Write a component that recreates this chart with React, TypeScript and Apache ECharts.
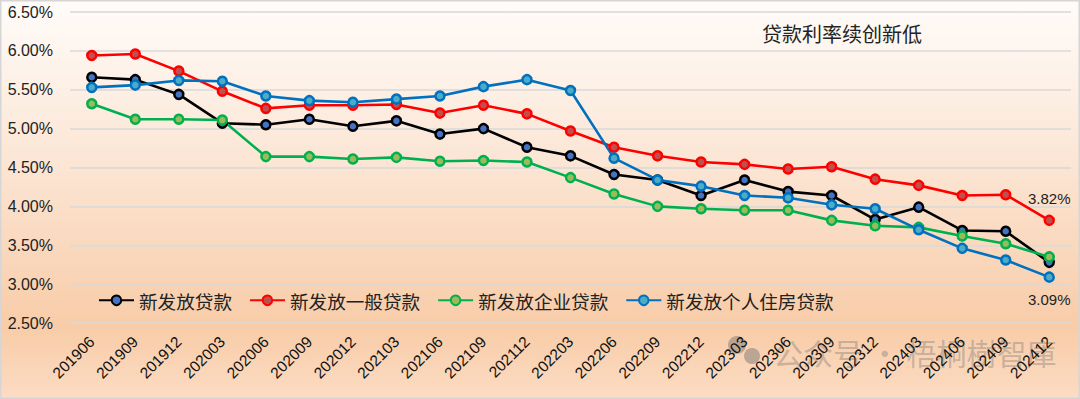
import React, { useEffect, useRef } from "react";
import * as echarts from "echarts";

const categories = [
  "201906", "201909", "201912", "202003", "202006", "202009", "202012", "202103",
  "202106", "202109", "202112", "202203", "202206", "202209", "202212", "202303",
  "202306", "202309", "202312", "202403", "202406", "202409", "202412",
];

const newLoans = [
  5.66, 5.63, 5.44, 5.07, 5.05, 5.12, 5.03, 5.10, 4.93, 5.00, 4.76, 4.65,
  4.41, 4.34, 4.14, 4.34, 4.19, 4.14, 3.83, 3.99, 3.69, 3.68, 3.28,
];
const generalLoans = [
  5.94, 5.96, 5.74, 5.48, 5.26, 5.30, 5.30, 5.31, 5.20, 5.30, 5.19, 4.97,
  4.76, 4.65, 4.57, 4.54, 4.48, 4.51, 4.35, 4.27, 4.14, 4.15, 3.82,
];
const corporateLoans = [
  5.32, 5.12, 5.12, 5.11, 4.64, 4.64, 4.61, 4.63, 4.58, 4.59, 4.57, 4.37,
  4.16, 4.00, 3.97, 3.95, 3.95, 3.82, 3.75, 3.73, 3.62, 3.52, 3.35,
];
const mortgageLoans = [
  5.53, 5.56, 5.62, 5.61, 5.42, 5.36, 5.34, 5.38, 5.42, 5.54, 5.63, 5.49,
  4.62, 4.34, 4.26, 4.14, 4.11, 4.02, 3.97, 3.70, 3.46, 3.31, 3.09,
];

const seriesNames = ["新发放贷款", "新发放一般贷款", "新发放企业贷款", "新发放个人住房贷款"];
const yTicks = { min: 2.5, max: 6.5, interval: 0.5 };
const titleText = "贷款利率续创新低";
const watermarkText = "公众号 · 梧桐樹智庫";

const CJK = '"Noto Sans CJK SC", "Noto Sans", sans-serif';
const NUM = '"Liberation Sans", "Noto Sans", sans-serif';

export default function App() {
  const ref = useRef<HTMLDivElement>(null);

  useEffect(() => {
    if (!ref.current) return;
    const chart = echarts.init(ref.current, undefined, { renderer: "svg" });

    const mk = (
      name: string,
      data: number[],
      line: string,
      fill: string,
      label?: { pos: "top" | "bottom" }
    ) => ({
      name,
      type: "line",
      data: data.map((v, i) =>
        label && i === data.length - 1
          ? {
              value: v,
              label: {
                show: true,
                position: label.pos,
                distance: 9,
                formatter: (p: any) => Number(p.value).toFixed(2) + "%",
                fontSize: 15,
                fontFamily: NUM,
                color: "#222",
              },
            }
          : v
      ),
      symbol: "circle",
      symbolSize: 9,
      showAllSymbol: true,
      lineStyle: { color: line, width: 2.6 },
      itemStyle: { color: fill, borderColor: line, borderWidth: 2.5 },
      z: 3,
    });

    chart.setOption({
      animation: false,
      backgroundColor: {
        type: "linear",
        x: 0,
        y: 0,
        x2: 0,
        y2: 1,
        colorStops: [
          { offset: 0, color: "#fffcfa" },
          { offset: 0.45, color: "#fbe3d0" },
          { offset: 0.82, color: "#f8cca8" },
          { offset: 1, color: "#fcdcc3" },
        ],
      },
      grid: { left: 70, right: 9, top: 12, bottom: 76, containLabel: false },
      title: {
        text: titleText,
        left: 757,
        top: 18,
        textStyle: { fontFamily: CJK, fontSize: 20, fontWeight: "normal", color: "#222" },
      },
      legend: {
        left: 93,
        top: 286,
        itemWidth: 35,
        itemHeight: 12,
        itemGap: 17,
        textStyle: { fontFamily: CJK, fontSize: 18.6, color: "#222" },
        data: seriesNames,
      },
      xAxis: {
        type: "category",
        data: categories,
        boundaryGap: true,
        axisLine: { show: false },
        axisTick: { show: false },
        axisLabel: {
          rotate: 45,
          interval: 0,
          margin: 16,
          fontSize: 15.5,
          fontFamily: NUM,
          color: "#111",
        },
      },
      yAxis: {
        type: "value",
        min: yTicks.min,
        max: yTicks.max,
        interval: yTicks.interval,
        axisLine: { show: false },
        axisTick: { show: false },
        axisLabel: {
          margin: 17,
          fontSize: 16,
          fontFamily: NUM,
          color: "#222",
          formatter: (v: number) => v.toFixed(2) + "%",
        },
        splitLine: { lineStyle: { color: "#d9d9d9", width: 1.5 } },
      },
      graphic: [
        {
          type: "rect",
          shape: { x: 0.75, y: 0.75, width: 1078.5, height: 397.5 },
          style: { fill: "none", stroke: "#d6d6d6", lineWidth: 1.5 },
          z: 100,
        },
        {
          type: "group",
          z: 0,
          children: [
            {
              type: "circle",
              shape: { cx: 737, cy: 345, r: 9 },
              style: { fill: "rgba(110,110,110,0.45)" },
            },
            {
              type: "circle",
              shape: { cx: 752, cy: 356, r: 8 },
              style: { fill: "rgba(110,110,110,0.45)" },
            },
            {
              type: "text",
              x: 773,
              y: 352,
              style: {
                text: watermarkText,
                fontFamily: CJK,
                fontSize: 30,
                fill: "rgba(120,120,120,0.4)",
                verticalAlign: "middle",
              },
            },
          ],
        },
      ],
      series: [
        mk(seriesNames[0], newLoans, "#000000", "#4472c4"),
        mk(seriesNames[1], generalLoans, "#ff0000", "#c0504d", { pos: "top" }),
        mk(seriesNames[2], corporateLoans, "#00b050", "#9bbb59"),
        mk(seriesNames[3], mortgageLoans, "#0070c0", "#4bacc6", { pos: "bottom" }),
      ],
    });

    return () => chart.dispose();
  }, []);

  return (
    <div
      ref={ref}
      style={{ position: "absolute", left: 0, top: 0, width: 1080, height: 399 }}
    />
  );
}
